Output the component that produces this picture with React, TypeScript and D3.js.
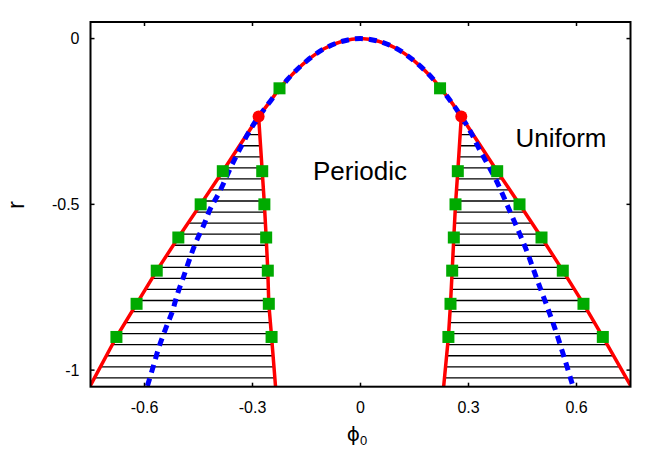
import React from "react";
import * as d3 from "d3";

const W = 664, H = 465;
const PHI_TICKS = [-0.6, -0.3, 0, 0.3, 0.6];
const PHI_TICK_LABELS = ["-0.6", "-0.3", "0", "0.3", "0.6"];
const R_TICKS = [0, -0.5, -1];
const R_TICK_LABELS = ["0", "-0.5", "-1"];

// top red arc between the two critical points
const ARC_PHI = [-0.283, -0.25, -0.225, -0.2, -0.15, -0.1, -0.05, 0, 0.05, 0.1, 0.15, 0.2, 0.221, 0.25, 0.28];
const ARC_R = [-0.235, -0.188, -0.151, -0.12, -0.068, -0.030, -0.008, 0, -0.008, -0.030, -0.068, -0.12, -0.148, -0.188, -0.235];

const BRANCH_R = [-0.235, -0.40, -0.50, -0.60, -0.70, -0.80, -0.90, -1.05];
const LEFT_OUTER_PHI = [-0.283, -0.3825, -0.444, -0.506, -0.566, -0.622, -0.678, -0.752];
const LEFT_INNER_PHI = [-0.283, -0.273, -0.267, -0.262, -0.2575, -0.2547, -0.247, -0.236];
const RIGHT_OUTER_PHI = [0.28, 0.3797, 0.4417, 0.5028, 0.5619, 0.6194, 0.6731, 0.752];
const RIGHT_INNER_PHI = [0.28, 0.2703, 0.2639, 0.2592, 0.2547, 0.25, 0.2442, 0.231];

const BLUE_PHI = [-0.592, -0.574, -0.56, -0.542, -0.523, -0.509, -0.492, -0.475, -0.458, -0.436, -0.417, -0.392, -0.35, -0.30, -0.25, -0.2, -0.15, -0.1, -0.05, 0, 0.05, 0.1, 0.15, 0.2, 0.25, 0.3, 0.3306, 0.377, 0.4186, 0.4575, 0.4925, 0.54, 0.59];
const BLUE_R = [-1.048, -0.983, -0.931, -0.877, -0.824, -0.772, -0.720, -0.666, -0.616, -0.564, -0.513, -0.463, -0.365, -0.264, -0.188, -0.12, -0.068, -0.030, -0.008, 0, -0.008, -0.030, -0.068, -0.12, -0.188, -0.27, -0.3346, -0.428, -0.53, -0.629, -0.7326, -0.874, -1.048];

const GREEN_PHI = [-0.225, 0.221,
  -0.3825, -0.444, -0.506, -0.566, -0.622, -0.678,
  -0.273, -0.267, -0.262, -0.2575, -0.2547, -0.247,
  0.3797, 0.4417, 0.5028, 0.5619, 0.6194, 0.6731,
  0.2703, 0.2639, 0.2592, 0.2547, 0.25, 0.2442];
const GREEN_R = [-0.15, -0.15,
  -0.40, -0.50, -0.60, -0.70, -0.80, -0.90,
  -0.40, -0.50, -0.60, -0.70, -0.80, -0.90,
  -0.40, -0.50, -0.60, -0.70, -0.80, -0.90,
  -0.40, -0.50, -0.60, -0.70, -0.80, -0.90];

const RED_DOT_PHI = [-0.283, 0.28];
const RED_DOT_R = [-0.235, -0.235];

const HATCH_R0 = -1.0233;
const HATCH_STEP = 1 / 30;

const M = { left: 90.5, right: 630.5, top: 22, bottom: 386.7 };

export default function App() {
  const x = d3.scaleLinear().domain([-0.75, 0.75]).range([M.left, M.right]);
  const y = d3.scaleLinear().domain([0.05, -1.05]).range([M.top, M.bottom]);

  const zip = (p: number[], r: number[]) => p.map((v, i) => [v, r[i]] as [number, number]);
  const lineC = d3.line<[number, number]>().x(d => x(d[0])).y(d => y(d[1])).curve(d3.curveCatmullRom);
  const lineL = d3.line<[number, number]>().x(d => x(d[0])).y(d => y(d[1]));

  const leftOuter = zip(LEFT_OUTER_PHI, BRANCH_R);
  const leftInner = zip(LEFT_INNER_PHI, BRANCH_R);
  const rightOuter = zip(RIGHT_OUTER_PHI, BRANCH_R);
  const rightInner = zip(RIGHT_INNER_PHI, BRANCH_R);

  const leftRegion = lineL([...leftOuter, ...leftInner.slice().reverse()]) + "Z";
  const rightRegion = lineL([...rightOuter, ...rightInner.slice().reverse()]) + "Z";

  const hatch: number[] = [];
  for (let r = HATCH_R0; r < -0.2; r += HATCH_STEP) hatch.push(r);

  const font = "'Liberation Sans', Arial, Helvetica, sans-serif";
  const tickLen = 4;
  const sq = 12;

  return (
    <svg width={W} height={H} style={{ position: "absolute", left: 0, top: 0, background: "#fff" }} fontFamily={font}>
      <defs>
        <clipPath id="plot"><rect x={M.left} y={M.top} width={M.right - M.left} height={M.bottom - M.top} /></clipPath>
        <clipPath id="hatchL"><path d={leftRegion} /></clipPath>
        <clipPath id="hatchR"><path d={rightRegion} /></clipPath>
      </defs>
      <g clipPath="url(#plot)">
        <g clipPath="url(#hatchL)">
          {hatch.map((r, i) => <line key={i} x1={M.left} x2={M.right} y1={y(r)} y2={y(r)} stroke="#000" strokeWidth={1.3} />)}
        </g>
        <g clipPath="url(#hatchR)">
          {hatch.map((r, i) => <line key={i} x1={M.left} x2={M.right} y1={y(r)} y2={y(r)} stroke="#000" strokeWidth={1.3} />)}
        </g>
        <g fill="none" stroke="#ff0000" strokeWidth={3.5} strokeLinejoin="round" strokeLinecap="round">
          <path d={lineC(zip(ARC_PHI, ARC_R)) || ""} />
          <path d={lineL(leftOuter) || ""} />
          <path d={lineL(leftInner) || ""} />
          <path d={lineL(rightOuter) || ""} />
          <path d={lineL(rightInner) || ""} />
        </g>
        <path d={lineC(zip(BLUE_PHI, BLUE_R)) || ""} fill="none" stroke="#0000ff" strokeWidth={5} strokeDasharray="8,6" />
        {GREEN_PHI.map((p, i) => (
          <rect key={i} x={x(p) - sq / 2} y={y(GREEN_R[i]) - sq / 2} width={sq} height={sq} fill="#00aa00" />
        ))}
        {RED_DOT_PHI.map((p, i) => (
          <circle key={i} cx={x(p)} cy={y(RED_DOT_R[i])} r={6} fill="#ff0000" />
        ))}
      </g>
      <rect x={M.left} y={M.top} width={M.right - M.left} height={M.bottom - M.top} fill="none" stroke="#000" strokeWidth={2} />
      {PHI_TICKS.map((t, i) => (
        <g key={i}>
          <line x1={x(t)} x2={x(t)} y1={M.bottom} y2={M.bottom - tickLen} stroke="#000" strokeWidth={1.5} />
          <line x1={x(t)} x2={x(t)} y1={M.top} y2={M.top + tickLen} stroke="#000" strokeWidth={1.5} />
          <text x={x(t)} y={412.5} textAnchor="middle" fontSize={16}>{PHI_TICK_LABELS[i]}</text>
        </g>
      ))}
      {R_TICKS.map((t, i) => (
        <g key={i}>
          <line x1={M.left} x2={M.left + tickLen} y1={y(t)} y2={y(t)} stroke="#000" strokeWidth={1.5} />
          <line x1={M.right} x2={M.right - tickLen} y1={y(t)} y2={y(t)} stroke="#000" strokeWidth={1.5} />
          <text x={79.5} y={y(t)} dy="0.36em" textAnchor="end" fontSize={16}>{R_TICK_LABELS[i]}</text>
        </g>
      ))}
      <text x={360} y={179.5} textAnchor="middle" fontSize={26}>Periodic</text>
      <text x={561} y={146.7} textAnchor="middle" fontSize={26}>Uniform</text>
      <text transform="translate(24,205) rotate(-90)" textAnchor="middle" fontSize={24}>r</text>
      <text x={357} y={441} textAnchor="middle" fontSize={20}>
        <tspan fontFamily="'DejaVu Sans', sans-serif">ϕ</tspan><tspan fontSize={13} dy={4}>0</tspan>
      </text>
    </svg>
  );
}
